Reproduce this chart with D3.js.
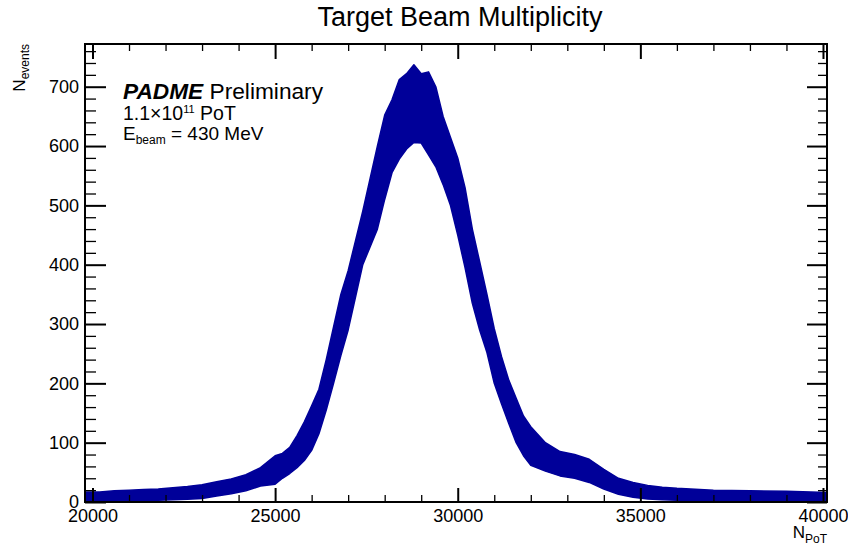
<!DOCTYPE html>
<html>
<head>
<meta charset="utf-8">
<script src="https://cdn.jsdelivr.net/npm/d3@7"></script>
<style>
  body { margin: 0; background: #fff; }
  text { font-family: "Liberation Sans", Arial, Helvetica, sans-serif; fill: #000; }
</style>
</head>
<body>
<div id="chart"></div>
<script>
var binPoT = [19800, 20200, 20600, 21000, 21400, 21800, 22200, 22600, 23000, 23400,
  23800, 24200, 24600, 25000, 25200, 25400, 25600, 25800, 26000, 26200,
  26400, 26600, 26800, 27000, 27200, 27400, 27600, 27800, 28000, 28200,
  28400, 28600, 28800, 29000, 29200, 29400, 29600, 29800, 30000, 30200,
  30400, 30600, 30800, 31000, 31200, 31400, 31600, 31800, 32000, 32400,
  32800, 33200, 33600, 34000, 34400, 34800, 35200, 35600, 36000, 37000,
  38000, 39000, 40110];

// upper edge of the fluctuating band (N_events)
var bandHigh = [17, 17, 19, 20, 21, 22, 24, 26, 29, 34,
  39, 46, 58, 78, 82, 92, 112, 135, 162, 190,
  240, 295, 350, 390, 440, 490, 545, 600, 652, 678,
  712, 722, 737, 722, 725, 700, 650, 615, 580, 530,
  460, 405, 350, 292, 245, 205, 175, 145, 127, 100,
  85, 80, 72, 55, 40, 33, 28, 25, 23, 20,
  19, 18, 16];

// lower edge of the band
var bandLow = [0, 1, 1.5, 2, 2.5, 3, 4, 4.5, 6, 10,
  14, 19, 27, 30, 40, 48, 58, 70, 87, 115,
  155, 200, 247, 290, 345, 400, 430, 460, 510, 555,
  578, 595, 606, 605, 585, 565, 535, 500, 450, 395,
  335, 290, 252, 200, 165, 132, 100, 78, 62, 52,
  44, 40, 33, 22, 13, 8, 5, 4, 3, 2,
  2, 1.5, 1];

var xMajor = [20000, 25000, 30000, 35000, 40000];
var yMajor = [0, 100, 200, 300, 400, 500, 600, 700];

var width = 848, height = 548;
var padL = 85, padR = 827, padT = 44, padB = 502;

var svg = d3.select('#chart').append('svg')
  .attr('width', width)
  .attr('height', height);

var x = d3.scaleLinear().domain([19795, 40110]).range([padL, padR]);
var y = d3.scaleLinear().domain([0, 772]).range([padB, padT]);

var data = binPoT.map(function(d, i) {
  return { n: d, hi: bandHigh[i], lo: bandLow[i] };
});

svg.append('clipPath').attr('id', 'frame')
  .append('rect')
  .attr('x', padL).attr('y', padT)
  .attr('width', padR - padL).attr('height', padB - padT);

var band = d3.area()
  .x(function(d) { return x(d.n); })
  .y0(function(d) { return y(d.lo); })
  .y1(function(d) { return y(d.hi); });

svg.append('path')
  .datum(data)
  .attr('clip-path', 'url(#frame)')
  .attr('d', band)
  .attr('fill', '#000099')
  .attr('stroke', '#000099')
  .attr('stroke-width', 1.5)
  .attr('stroke-linejoin', 'round');

// minor tick values
var xMinor = d3.range(20000, 40001, 1000).filter(function(v) { return v % 5000 != 0; });
var yMinor = d3.range(0, 772, 20).filter(function(v) { return v % 100 != 0; });

function drawAxis(axis, tx, ty, cls, sw) {
  var g = svg.append('g')
    .attr('class', cls)
    .attr('transform', 'translate(' + tx + ',' + ty + ')')
    .call(axis);
  g.select('.domain').remove();
  g.selectAll('line').attr('stroke', '#000').attr('stroke-width', sw);
  return g;
}

// bottom
var gb = drawAxis(d3.axisBottom(x).tickValues(xMajor).tickSize(-14).tickPadding(7).tickFormat(d3.format('d')), 0, padB, 'xaxis', 2);
gb.selectAll('text').style('font-size', '18px').style('font-family', '"Liberation Sans", Arial, sans-serif');
drawAxis(d3.axisBottom(x).tickValues(xMinor).tickSize(-7).tickFormat(''), 0, padB, 'xminor', 1.3);
// top
drawAxis(d3.axisTop(x).tickValues(xMajor).tickSize(-15).tickFormat(''), 0, padT, 'xtop', 2);
drawAxis(d3.axisTop(x).tickValues(xMinor).tickSize(-7).tickFormat(''), 0, padT, 'xtopminor', 1.3);
// left
var gl = drawAxis(d3.axisLeft(y).tickValues(yMajor).tickSize(-21).tickPadding(6), padL, 0, 'yaxis', 2);
gl.selectAll('text').style('font-size', '18px').style('font-family', '"Liberation Sans", Arial, sans-serif');
drawAxis(d3.axisLeft(y).tickValues(yMinor).tickSize(-11).tickFormat(''), padL, 0, 'yminor', 1.3);
// right
drawAxis(d3.axisRight(y).tickValues(yMajor).tickSize(-20).tickFormat(''), padR, 0, 'yright', 2);
drawAxis(d3.axisRight(y).tickValues(yMinor).tickSize(-9).tickFormat(''), padR, 0, 'yrightminor', 1.3);

svg.append('rect')
  .attr('x', padL).attr('y', padT)
  .attr('width', padR - padL).attr('height', padB - padT)
  .attr('fill', 'none')
  .attr('stroke', '#000')
  .attr('stroke-width', 2);

// title
svg.append('text')
  .attr('x', 460).attr('y', 26)
  .attr('text-anchor', 'middle')
  .style('font-size', '27px')
  .text('Target Beam Multiplicity');

// axis titles
var yt = svg.append('text')
  .attr('transform', 'translate(25,44) rotate(-90)')
  .attr('text-anchor', 'end')
  .style('font-size', '17px');
yt.append('tspan').text('N');
yt.append('tspan').attr('dy', 4).style('font-size', '12px').text('events');

var xt = svg.append('text')
  .attr('x', 827).attr('y', 538)
  .attr('text-anchor', 'end')
  .style('font-size', '17px');
xt.append('tspan').text('N');
xt.append('tspan').attr('dy', 5).style('font-size', '12px').text('PoT');

// labels in the pad
var t1 = svg.append('text').attr('x', 123).attr('y', 99).style('font-size', '22.7px');
t1.append('tspan').style('font-weight', 'bold').style('font-style', 'italic').text('PADME');
t1.append('tspan').text(' Preliminary');

var t2 = svg.append('text').attr('x', 123).attr('y', 120).style('font-size', '19.5px');
t2.append('tspan').text('1.1\u00d710');
t2.append('tspan').attr('dy', -7).style('font-size', '11px').text('11');
t2.append('tspan').attr('dy', 7).text(' PoT');

var t3 = svg.append('text').attr('x', 123).attr('y', 140).style('font-size', '19px');
t3.append('tspan').text('E');
t3.append('tspan').attr('dy', 4).style('font-size', '12px').text('beam');
t3.append('tspan').attr('dy', -4).text(' = 430 MeV');
</script>
</body>
</html>
